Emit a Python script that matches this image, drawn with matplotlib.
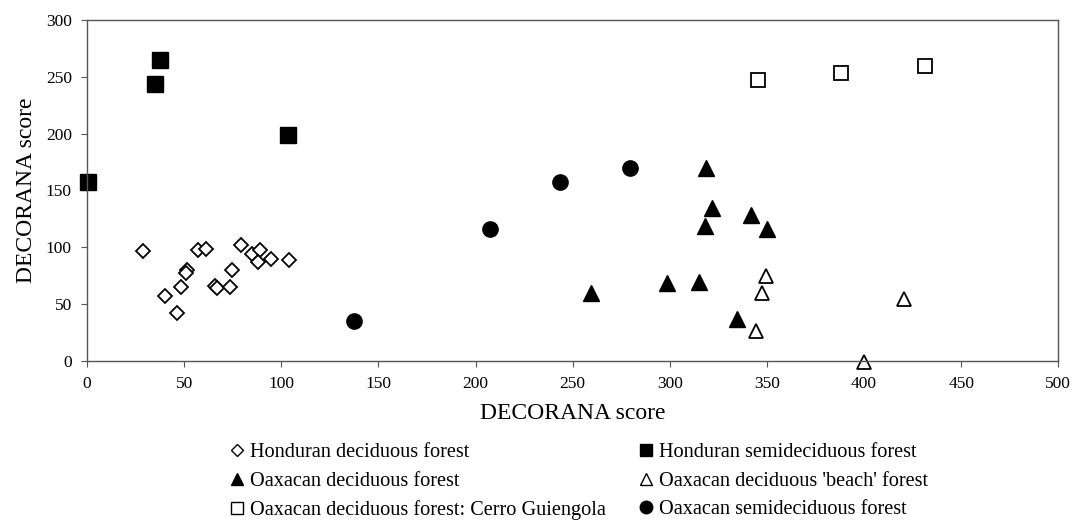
import matplotlib.pyplot as plt
from matplotlib.lines import Line2D

plt.rcParams['font.family'] = ['Liberation Serif', 'DejaVu Serif']

# Datos
hon_dec_x = [28.7, 40.2, 46.3, 48.4, 51.3, 51.0, 57.3, 61.1, 65.9, 66.8, 73.6, 74.5, 79.1, 84.8, 89.1, 88.2, 94.7, 104.2]
hon_dec_y = [97.0, 57.2, 41.9, 65.4, 80.0, 77.7, 97.6, 98.2, 66.0, 63.9, 65.4, 80.0, 101.8, 94.1, 97.6, 86.8, 89.7, 88.8]

hon_semi_x = [37.6, 35.0, 103.3, 0.3]
hon_semi_y = [264.7, 243.6, 198.8, 157.7]

oax_dec_x = [318.7, 321.7, 317.9, 341.9, 350.0, 298.8, 314.8, 334.5, 259.5]
oax_dec_y = [169.5, 134.3, 118.7, 128.4, 115.8, 68.9, 69.7, 36.7, 60.1]

oax_beach_x = [349.3, 347.6, 344.6, 400.1, 420.4]
oax_beach_y = [74.8, 59.5, 26.4, -0.5, 54.3]

cerro_x = [345.5, 388.3, 431.5]
cerro_y = [247.0, 253.3, 259.5]

oax_semi_x = [137.6, 207.5, 243.6, 279.6]
oax_semi_y = [35.2, 116.1, 157.4, 169.5]

labels = ["Honduran deciduous forest", "Honduran semideciduous forest",
          "Oaxacan deciduous forest", "Oaxacan deciduous 'beach' forest",
          "Oaxacan deciduous forest: Cerro Guiengola", "Oaxacan semideciduous forest"]

fig = plt.figure(figsize=(10.72, 5.21), dpi=100)
ax = fig.add_axes([0.0812, 0.307, 0.906, 0.655])

ax.plot(hon_dec_x, hon_dec_y, 'D', ms=7, mfc='white', mec='black', mew=1.3, ls='none', clip_on=False)
ax.plot(hon_semi_x, hon_semi_y, 's', ms=11, mfc='black', mec='black', ls='none', clip_on=False)
ax.plot(oax_dec_x, oax_dec_y, '^', ms=11, mfc='black', mec='black', ls='none', clip_on=False)
ax.plot(oax_beach_x, oax_beach_y, '^', ms=10, mfc='white', mec='black', mew=1.3, ls='none', clip_on=False)
ax.plot(cerro_x, cerro_y, 's', ms=10, mfc='white', mec='black', mew=1.3, ls='none', clip_on=False)
ax.plot(oax_semi_x, oax_semi_y, 'o', ms=11, mfc='black', mec='black', ls='none', clip_on=False)

ax.set_xlim(0, 500)
ax.set_ylim(0, 300)
ax.set_xticks(range(0, 501, 50))
ax.set_yticks(range(0, 301, 50))
ax.tick_params(labelsize=12.5, length=4, color='#555555', direction='out', pad=7)
for s in ax.spines.values():
	s.set_color('#555555')
	s.set_linewidth(1)
ax.set_xlabel('DECORANA score', fontsize=17, labelpad=8)
ax.set_ylabel('DECORANA score', fontsize=17, labelpad=6)

# Leyenda hecha a mano: dos columnas como dos leyendas separadas
h_col1 = [
	Line2D([], [], marker='D', ms=6, mfc='white', mec='black', mew=1, ls='none'),
	Line2D([], [], marker='^', ms=8.5, mfc='black', mec='black', ls='none'),
	Line2D([], [], marker='s', ms=9, mfc='white', mec='black', mew=1, ls='none'),
]
h_col2 = [
	Line2D([], [], marker='s', ms=9, mfc='black', mec='black', ls='none'),
	Line2D([], [], marker='^', ms=8.5, mfc='white', mec='black', mew=1, ls='none'),
	Line2D([], [], marker='o', ms=9, mfc='black', mec='black', ls='none'),
]
leg_kw = dict(loc='upper left', frameon=False, fontsize=14.6, handlelength=0.8,
              handletextpad=0.25, labelspacing=0.45, borderpad=0)
fig.legend(h_col1, [labels[0], labels[2], labels[4]], bbox_to_anchor=(0.2043, 0.169), **leg_kw)
fig.legend(h_col2, [labels[1], labels[3], labels[5]], bbox_to_anchor=(0.5857, 0.169), **leg_kw)

fig.savefig('out.png', dpi=100)
